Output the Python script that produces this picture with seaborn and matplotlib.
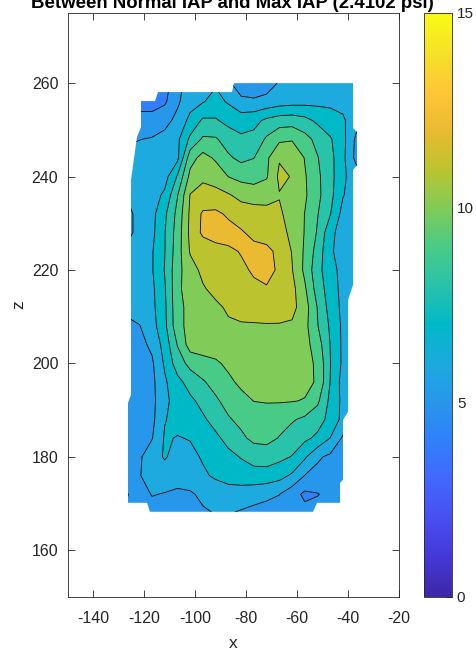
import numpy as np
import matplotlib
matplotlib.use("Agg")
import matplotlib.pyplot as plt
import seaborn as sns
from matplotlib.colors import LinearSegmentedColormap, Normalize
from matplotlib.patches import Polygon
from matplotlib.cm import ScalarMappable

sns.set_theme(style="white")
plt.rcParams["font.family"] = ["Liberation Sans", "DejaVu Sans"]
plt.rcParams["axes.unicode_minus"] = False

# sensor grid positions
x_grid = [-127, -122, -117, -112, -107, -102, -97, -92, -87, -82,
          -77, -72, -67, -62, -57, -52, -47, -42, -36]
z_grid = [260, 256, 252, 248, 244, 240, 236, 232, 228, 224, 220, 216,
          212, 208, 204, 200, 196, 192, 188, 184, 180, 176, 172, 168]

# change in pressure reading, one row per z position (left to right in x)
z260 = [4.7, 4.5, 4.4, 4.6, 5.6, 6.5, 6.75, 6.9, 6.2, 5.3, 5.2, 5.5, 6.1, 6.35, 6.5, 6.55, 6.6, 6.5, 6.1]
z256 = [4.6, 4.5, 4.4, 4.85, 5.85, 6.6, 6.95, 7.3, 6.9, 6.3, 6.2, 6.35, 6.55, 6.65, 6.7, 6.75, 6.8, 6.7, 6.3]
z252 = [5.3, 5.45, 5.55, 5.7, 6.25, 7.3, 8.15, 8.1, 7.7, 7.5, 7.7, 8.2, 8.5, 8.55, 8.3, 7.8, 7.4, 7.15, 6.2]
z248 = [5.9, 5.98, 6.05, 6.3, 6.8, 8.2, 9.15, 9.1, 8.55, 8.2, 8.3, 9.15, 9.8, 9.9, 9.35, 8.7, 8.1, 7.3, 5.55]
z244 = [6.2, 6.3, 6.5, 6.65, 6.75, 9.6, 10.35, 9.85, 9.15, 8.75, 8.98, 9.8, 10.92, 10.9, 9.95, 9.05, 8.3, 7.25, 5.45]
z240 = [6.3, 6.35, 6.5, 6.6, 8.1, 10.3, 10.85, 10.6, 9.98, 9.7, 9.6, 9.9, 11.2, 10.95, 10.1, 9.2, 8.35, 7.2, 6.3]
z236 = [6.05, 6.25, 6.55, 7.2, 8.95, 11.05, 11.3, 11.3, 11.1, 10.7, 10.55, 10.65, 10.95, 10.92, 10.15, 9.25, 8.3, 7.05, 6.4]
z232 = [5.7, 6.3, 6.7, 7.8, 9.3, 11.2, 12.15, 12.2, 11.85, 11.55, 11.45, 11.3, 11.15, 10.6, 9.98, 9.05, 8.05, 6.65, 6.4]
z228 = [5.7, 6.3, 6.75, 7.95, 9.45, 11.25, 12.2, 12.3, 12.35, 12.1, 11.75, 11.55, 11.3, 10.8, 9.95, 8.9, 7.3, 6.5, 6.4]
z224 = [6.2, 6.45, 6.92, 7.97, 9.55, 11.1, 11.35, 11.75, 11.85, 12.05, 12.3, 12.25, 11.75, 10.95, 9.85, 8.6, 7.15, 6.55, 6.4]
z220 = [6.3, 6.55, 6.92, 8.05, 9.68, 10.58, 11.25, 11.45, 11.7, 11.85, 12.1, 12.2, 11.9, 11.05, 9.78, 8.35, 7.34, 6.7, 6.5]
z216 = [6.35, 6.55, 6.8, 7.9, 9.75, 10.55, 10.9, 11.3, 11.5, 11.65, 11.85, 11.95, 11.7, 11.3, 10.15, 8.55, 7.5, 6.7, 6.5]
z212 = [6.4, 6.55, 6.75, 7.8, 9.7, 10.3, 10.45, 10.8, 11.15, 11.35, 11.45, 11.5, 11.45, 11.3, 10.45, 8.95, 7.6, 6.75, 6.5]
z208 = [5.6, 5.95, 6.6, 7.75, 9.65, 10.35, 10.5, 10.7, 10.85, 10.9, 10.9, 10.92, 10.92, 10.85, 10.3, 9.05, 7.85, 6.8, 6.5]
z204 = [5.5, 5.7, 6.2, 7.4, 9.05, 10.45, 10.55, 10.5, 10.55, 10.6, 10.62, 10.62, 10.6, 10.55, 10.35, 9.5, 7.98, 6.8, 6.5]
z200 = [5.4, 5.55, 5.85, 7.15, 8.5, 9.3, 9.6, 9.85, 10.2, 10.4, 10.5, 10.5, 10.5, 10.45, 10.3, 9.85, 8.02, 6.8, 6.5]
z196 = [5.35, 5.5, 5.75, 6.85, 7.7, 8.4, 8.9, 9.35, 9.8, 10.2, 10.35, 10.4, 10.4, 10.35, 10.25, 9.9, 7.98, 6.6, 6.4]
z192 = [5.3, 5.45, 5.7, 6.8, 7.35, 7.8, 8.3, 8.85, 9.35, 9.7, 10.02, 10.08, 10.08, 10.05, 9.95, 9.2, 7.75, 6.75, 6.4]
z188 = [5.3, 5.45, 5.75, 6.95, 7.3, 7.55, 7.85, 8.35, 8.9, 9.25, 9.4, 9.45, 9.35, 9.1, 8.8, 8.4, 7.7, 6.7, 5.95]
z184 = [5.3, 5.5, 5.95, 7.1, 6.95, 7.05, 7.45, 7.8, 8.3, 8.8, 9.25, 9.3, 8.95, 8.55, 8.2, 7.8, 6.98, 5.85, 5.7]
z180 = [5.4, 5.85, 6.55, 7.1, 6.6, 6.75, 7.1, 7.45, 7.75, 8.05, 8.35, 8.45, 8.25, 7.95, 7.15, 6.15, 5.8, 5.6, 5.5]
z176 = [5.75, 5.95, 6.35, 6.5, 6.55, 6.65, 6.85, 7.15, 7.4, 7.55, 7.65, 7.6, 7.35, 6.85, 5.98, 5.7, 5.55, 5.5, 5.5]
z172 = [4.9, 5.6, 6.05, 5.95, 5.75, 5.85, 6.25, 6.45, 6.55, 6.5, 6.35, 6.2, 6.02, 5.4, 4.8, 4.95, 5.3, 5.45, 5.5]
z168 = [5.2, 5.4, 5.6, 5.6, 5.6, 5.7, 5.85, 6.05, 6.05, 5.9, 5.75, 5.65, 5.55, 5.45, 5.3, 5.4, 5.5, 5.5, 5.5]

# outline of the measured area
outline_x = [-121.33, -115.83, -114.65, -85.59, -84.80, -38.06, -38.06, -36.49, -36.49,
             -38.06, -38.06, -40.02, -40.02, -41.99, -41.99, -43.17, -43.17, -52.20,
             -53.77, -117.79, -118.97, -126.43, -126.43, -125.26, -125.26, -122.90, -121.33]
outline_z = [256.15, 256.15, 258.07, 258.07, 260.0, 260.0, 250.37, 249.52, 242.46,
             241.39, 216.79, 213.58, 189.63, 187.91, 175.08, 174.44, 170.16, 170.16,
             168.24, 168.24, 170.16, 170.16, 191.55, 193.26, 239.25, 248.45, 250.59]

contour_levels = [4, 5, 6, 7, 8, 9, 10, 11, 12, 13]
color_limits = (0, 15)
colorbar_ticks = [0, 5, 10, 15]

title_text = "Between Normal IAP and Max IAP (2.4102 psi)"

# parula colour map
parula_anchors = [
    (0.2422, 0.1504, 0.6603), (0.2717, 0.2184, 0.8439), (0.2814, 0.3095, 0.9483),
    (0.2647, 0.4030, 0.9935), (0.1847, 0.5030, 0.9819), (0.1540, 0.5902, 0.9218),
    (0.1085, 0.6669, 0.8734), (0.0009, 0.7248, 0.7815), (0.1609, 0.7635, 0.6671),
    (0.2809, 0.7964, 0.5266), (0.5044, 0.7993, 0.3480), (0.7344, 0.7679, 0.1852),
    (0.9184, 0.7308, 0.1890), (0.9962, 0.7798, 0.2095), (0.9619, 0.8840, 0.1557),
    (0.9769, 0.9839, 0.0805)]
parula = LinearSegmentedColormap.from_list("parula", parula_anchors, N=256)
norm = Normalize(*color_limits)

values = np.array([z260, z256, z252, z248, z244, z240, z236, z232, z228, z224, z220, z216,
                   z212, z208, z204, z200, z196, z192, z188, z184, z180, z176, z172, z168])
X, Z = np.meshgrid(x_grid, z_grid)

W, H = 477, 650
fig = plt.figure(figsize=(W / 100, H / 100), dpi=100)
ax = fig.add_axes([68 / W, 1 - 597 / H, (399 - 68) / W, (597 - 13) / H])
cax = fig.add_axes([424 / W, 1 - 597 / H, 28 / W, (597 - 13) / H])

fill_colors = [parula(norm(lv)) for lv in contour_levels[:-1]]
filled = ax.contourf(X, Z, values, levels=contour_levels, colors=fill_colors, antialiased=True)
lines = ax.contour(X, Z, values, levels=contour_levels, colors="black", linewidths=0.6)

outline = Polygon(np.column_stack([outline_x, outline_z]), closed=True,
                  facecolor="none", edgecolor="none", transform=ax.transData)
ax.add_patch(outline)
filled.set_clip_path(outline)
lines.set_clip_path(outline)

edge = "#262626"
ax.set_xlim(-150, -20)
ax.set_ylim(150, 275)
ax.set_xticks(range(-140, -19, 20))
ax.set_yticks(range(160, 261, 20))
ax.tick_params(direction="in", length=5, width=0.6, colors=edge, labelsize=11.5,
               bottom=True, left=True, top=True, right=True)
ax.tick_params(axis="x", pad=10)
ax.tick_params(axis="y", pad=7)
for s in ax.spines.values():
    s.set_visible(True)
    s.set_color(edge)
    s.set_linewidth(0.6)
ax.set_facecolor("white")
ax.set_xlabel("x", fontsize=12.5, color=edge, labelpad=7)
ax.set_ylabel("z", fontsize=12.5, color=edge, labelpad=4)

sm = ScalarMappable(norm=norm, cmap=parula)
cb = fig.colorbar(sm, cax=cax, ticks=colorbar_ticks)
cb.outline.set_edgecolor(edge)
cb.outline.set_linewidth(0.6)
cax.tick_params(direction="in", length=4, width=0.6, colors=edge, labelsize=11, pad=3.5)

fig.text(232.5 / W, 1 - 7.5 / H, title_text, ha="center", va="baseline",
         fontsize=13.4, fontweight="bold", color="black")

fig.savefig("out.png", dpi=100, facecolor="white")
